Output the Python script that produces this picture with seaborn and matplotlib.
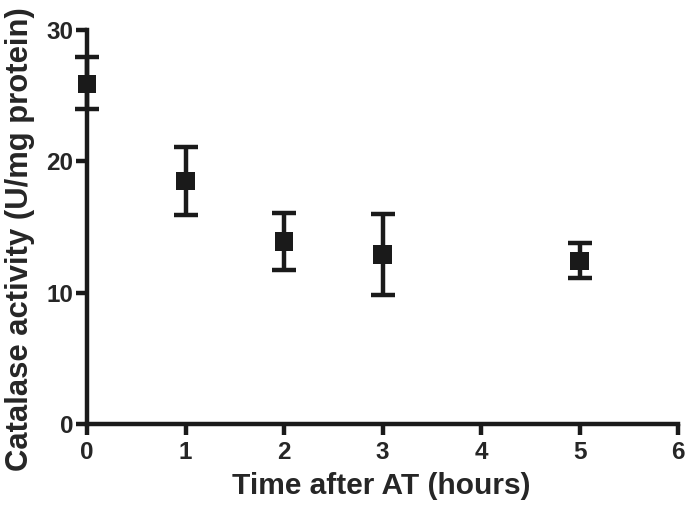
import numpy as np
import pandas as pd
import matplotlib
matplotlib.use('Agg')
import matplotlib.pyplot as plt
import seaborn as sns

# values
hours = [0, 1, 2, 3, 5]
catalase = [25.9, 18.5, 13.9, 12.9, 12.4]
err_low = [24.0, 15.9, 11.7, 9.8, 11.1]
err_high = [27.9, 21.1, 16.1, 16.0, 13.8]

x_ticks = [0, 1, 2, 3, 4, 5, 6]
y_ticks = [0, 10, 20, 30]

sns.set_style('ticks')
plt.rcParams['font.family'] = ['Liberation Sans', 'DejaVu Sans']
plt.rcParams['font.weight'] = 'bold'

df = pd.DataFrame({'hours': hours, 'catalase': catalase})
yerr = np.array([np.array(catalase) - np.array(err_low),
                 np.array(err_high) - np.array(catalase)])

fig = plt.figure(figsize=(6.85, 5.05), dpi=100)
ax = fig.add_axes([0.127, 0.160, 0.863, 0.781])

ax.errorbar(hours, catalase, yerr=yerr, fmt='none', ecolor='#1a1a1a',
            elinewidth=3.2, capsize=8.5, capthick=3.2, zorder=2, clip_on=False)
sns.scatterplot(data=df, x='hours', y='catalase', marker='s', s=175,
                color='#1a1a1a', edgecolor='none', ax=ax, zorder=3, clip_on=False)

ax.set_xlim(0, 6)
ax.set_ylim(0, 30)
ax.set_xticks(x_ticks)
ax.set_yticks(y_ticks)
ax.set_xlabel('Time after AT (hours)', fontsize=21.5, fontweight='bold')
ax.set_ylabel('Catalase activity (U/mg protein)', fontsize=22.3, fontweight='bold')
ax.xaxis.set_label_coords(0.497, -0.122)
ax.yaxis.set_label_coords(-0.088, 0.47)

for side in ['top', 'right']:
    ax.spines[side].set_visible(False)
for side in ['left', 'bottom']:
    ax.spines[side].set_linewidth(3.2)
    ax.spines[side].set_color('#1a1a1a')
ax.tick_params(axis='both', length=8, width=3.2, color='#1a1a1a',
               labelsize=17.5, pad=2, direction='out')
ax.tick_params(axis='x', pad=3.8)
for lbl in ax.get_xticklabels() + ax.get_yticklabels():
    lbl.set_fontweight('bold')

fig.savefig('out.png', dpi=100)
